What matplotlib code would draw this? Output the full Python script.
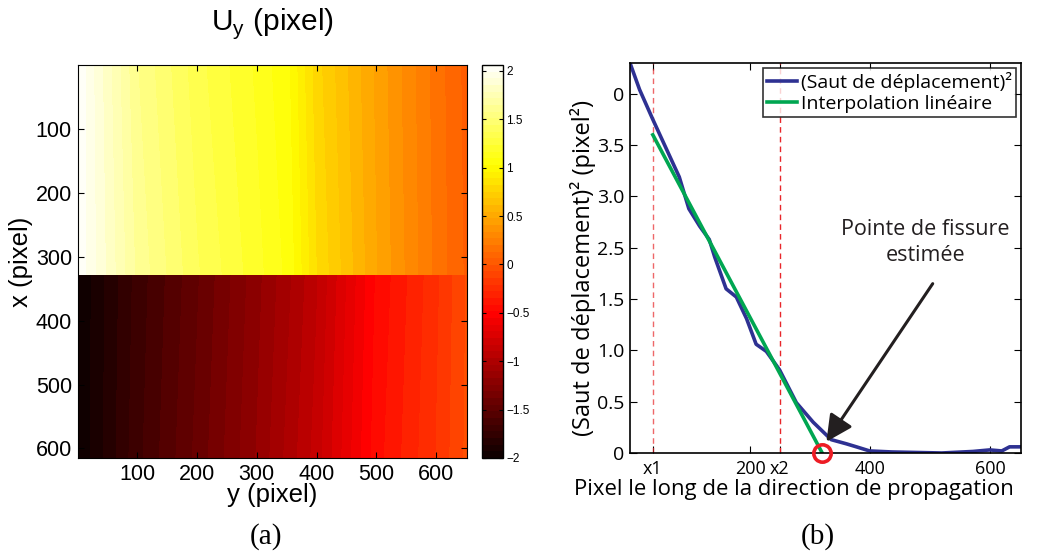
import numpy as np
import matplotlib
matplotlib.use("Agg")
import matplotlib.pyplot as plt

# ---- panel (a): U_y field on a coarse grid ----
col_pos = [0, 100, 200, 300, 354, 400, 500, 600, 651]
top_rows = [0, 329]
bot_rows = [329, 615]
uy_top = [
    [2.05, 1.58, 1.33, 1.15, 1.03, 0.78, 0.46, 0.17, 0.04],
    [2.05, 1.63, 1.38, 1.19, 1.07, 0.82, 0.48, 0.18, 0.05],
]
uy_bot = [
    [-2.0, -1.70, -1.46, -1.20, -1.05, -0.91, -0.48, -0.23, -0.07],
    [-2.0, -1.68, -1.43, -1.17, -1.01, -0.87, -0.45, -0.21, -0.06],
]
cbar_ticks = [-2, -1.5, -1, -0.5, 0, 0.5, 1, 1.5, 2]
cbar_labels = ["\u22122", "\u22121.5", "\u22121", "\u22120.5", "0", "0.5", "1", "1.5", "2"]

# ---- panel (b): squared displacement jump along propagation direction ----
jump_x = [0, 16, 38, 60, 82, 98, 116, 132, 141, 160, 177, 194, 210, 227, 249,
          277, 305, 335, 360, 377, 399, 436, 519, 571, 599, 619, 632, 651]
jump_y = [3.80, 3.54, 3.25, 2.97, 2.69, 2.38, 2.21, 2.08, 1.91, 1.60, 1.52, 1.31,
          1.06, 0.99, 0.81, 0.49, 0.30, 0.13, 0.09, 0.06, 0.02, 0.01, 0.0, 0.015,
          0.03, 0.02, 0.06, 0.06]
fit_x = [38, 320]
fit_y = [3.10, 0.0]
x1, x2 = 38, 249
tip = (320, 0.0)
ytick_pos = [0, 0.5, 1.0, 1.5, 2.0, 2.5, 3.0, 3.5]
ytick_labels = ["0", "0.5", "1.0", "1.5", "2.5", "3.0", "3.5", "0"]

W, H = 1047, 554
fig = plt.figure(figsize=(W / 100, H / 100), dpi=100)

# ---------------- left panel ----------------
sans = "Liberation Sans"
ax1 = fig.add_axes([77.5 / W, 1 - 458 / H, 389 / W, 393 / H])
levels = np.linspace(-2.0, 2.06, 60)
gx, gy = np.meshgrid(col_pos, top_rows)
cf = ax1.contourf(gx, gy, np.array(uy_top), levels=levels, cmap="hot")
gx, gy = np.meshgrid(col_pos, bot_rows)
ax1.contourf(gx, gy, np.array(uy_bot), levels=levels, cmap="hot")
ax1.set_xlim(0, 651)
ax1.set_ylim(615, 0)
ax1.set_xticks([100, 200, 300, 400, 500, 600])
ax1.set_yticks([100, 200, 300, 400, 500, 600])
ax1.tick_params(direction="in", top=True, right=True, length=4, labelsize=15.5,
                pad=4)
for lab in ax1.get_xticklabels() + ax1.get_yticklabels():
    lab.set_family(sans)
ax1.set_xlabel("y (pixel)", fontsize=18.5, family=sans, labelpad=-1)
ax1.set_ylabel("x (pixel)", fontsize=18.5, family=sans, labelpad=2)
ax1.set_title("U$_\\mathregular{y}$ (pixel)", fontsize=21.5, family=sans, pad=25)

cax = fig.add_axes([482 / W, 1 - 458 / H, 21.5 / W, 393 / H])
cb = fig.colorbar(cf, cax=cax)
cb.set_ticks(cbar_ticks)
cb.set_ticklabels(cbar_labels)
cax.tick_params(direction="in", left=True, right=True, length=3, labelsize=8.5,
                pad=2)
for lab in cax.get_yticklabels():
    lab.set_family(sans)
cb.outline.set_linewidth(1.0)

# ---------------- right panel ----------------
myr = "Open Sans"
ax2 = fig.add_axes([630 / W, 1 - 453 / H, 391 / W, 390 / H])
ax2.axvline(x1, color="#e8262a", ls=(0, (4, 3)), lw=1, alpha=0.7)
ax2.axvline(x2, color="#e8262a", ls=(0, (4, 3)), lw=1)
ax2.plot(jump_x, jump_y, color="#2e3192", lw=2.6,
         label="(Saut de d\u00e9placement)\u00b2")
ax2.plot(fit_x, fit_y, color="#00a651", lw=2.6, label="Interpolation lin\u00e9aire")
ax2.plot(*tip, "o", ms=12.5, mfc="none", mec="#ed1c24", mew=2.6, clip_on=False,
         zorder=5)
ax2.annotate("", xy=(327, 0.11), xytext=(504, 1.65),
             arrowprops=dict(arrowstyle="-|>,head_length=1.6,head_width=0.8",
                             color="#231f20", lw=2.2, shrinkA=0, shrinkB=0))
ax2.text(492, 2.05, "Pointe de fissure\nestim\u00e9e", ha="center", va="center",
         fontsize=15.5, family=myr, color="#231f20", linespacing=1.35)
ax2.set_xlim(0, 651)
ax2.set_ylim(0, 3.80)
ax2.set_xticks([x1, 200, x2, 400, 600])
ax2.set_xticklabels(["x1", "200", "x2", "400", "600"])
ax2.set_yticks(ytick_pos)
ax2.set_yticklabels(ytick_labels)
ax2.tick_params(direction="in", top=True, right=True, length=5, labelsize=14,
                pad=4)
ax2.tick_params(axis="x", labelsize=13, pad=5)
for lab in ax2.get_xticklabels() + ax2.get_yticklabels():
    lab.set_family(myr)
ax2.set_xlabel("Pixel le long de la direction de propagation", fontsize=15.9,
               family=myr)
ax2.xaxis.set_label_coords((794 - 630) / 391, -(490 - 453) / 390)
ax2.xaxis.label.set_va("center")
ax2.set_ylabel("(Saut de d\u00e9placement)\u00b2 (pixel\u00b2)", fontsize=17,
               family=myr)
ax2.yaxis.set_label_coords(-(630 - 583) / 391, (453 - 268) / 390)
ax2.yaxis.label.set_va("center")
for sp in ax2.spines.values():
    sp.set_linewidth(1.2)
leg = ax2.legend(loc="upper right", prop={"family": myr, "size": 14},
                 frameon=True, fancybox=False, edgecolor="black", borderpad=0.2,
                 handlelength=1.55, handletextpad=0.2, labelspacing=0.15,
                 borderaxespad=0.25)
leg.get_frame().set_linewidth(1.2)

# sub-figure captions
fig.text(266 / W, 1 - 537 / H, "(a)", ha="center", va="center", fontsize=21,
         family="Liberation Serif")
fig.text(818 / W, 1 - 537 / H, "(b)", ha="center", va="center", fontsize=21,
         family="Liberation Serif")

fig.savefig("out.png", dpi=100)
